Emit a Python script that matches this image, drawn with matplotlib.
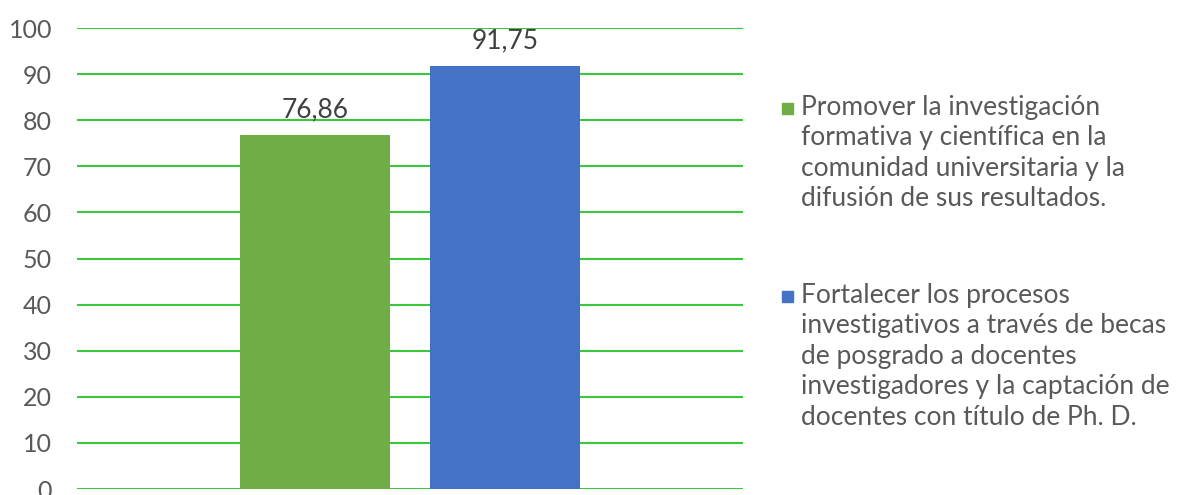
import matplotlib.pyplot as plt
from matplotlib.patches import Rectangle

series = [
    "Promover la investigación\nformativa y científica en la\ncomunidad universitaria y la\ndifusión de sus resultados.",
    "Fortalecer los procesos\ninvestigativos a través de becas\nde posgrado a docentes\ninvestigadores y la captación de\ndocentes con título de Ph. D.",
]
values = [76.86, 91.75]
colors = ["#70AD47", "#4472C4"]
yticks = [0, 10, 20, 30, 40, 50, 60, 70, 80, 90, 100]

plt.rcParams['font.family'] = ['Lato', 'DejaVu Sans']
txt = "#595959"

fig = plt.figure(figsize=(11.87, 4.95), dpi=100)
ax = fig.add_axes([0.0649, 0.0121, 0.5611, 0.9313])

width = 0.225
gap = 0.06
pos = [-(width + gap) / 2, (width + gap) / 2]
bars = ax.bar(pos, values, width=width, color=colors, zorder=3)
ax.bar_label(bars, labels=[f"{v:.2f}".replace(".", ",") for v in values],
             padding=9, fontsize=19, color="#404040")

ax.set_xlim(-0.5, 0.5)
ax.set_ylim(0, 100)
ax.set_yticks(yticks)
ax.set_xticks([])
ax.grid(axis="y", color="#3CC83C", linewidth=1.5, zorder=0)
ax.tick_params(axis="y", length=0, labelsize=18, labelcolor=txt, pad=18)
for s in ax.spines.values():
    s.set_visible(False)

# legend drawn by hand so the marker sits on the first line
ys = [0.782, 0.402]
for lab, c, y in zip(series, colors, ys):
    fig.patches.append(Rectangle((782 / 1187, y - 0.012), 11 / 1187, 11 / 495,
                                 transform=fig.transFigure, color=c))
    fig.text(801 / 1187, y + 0.027, lab, fontsize=19, color=txt, va="top",
             ha="left", linespacing=1.28)

fig.savefig("out.png", dpi=100)
